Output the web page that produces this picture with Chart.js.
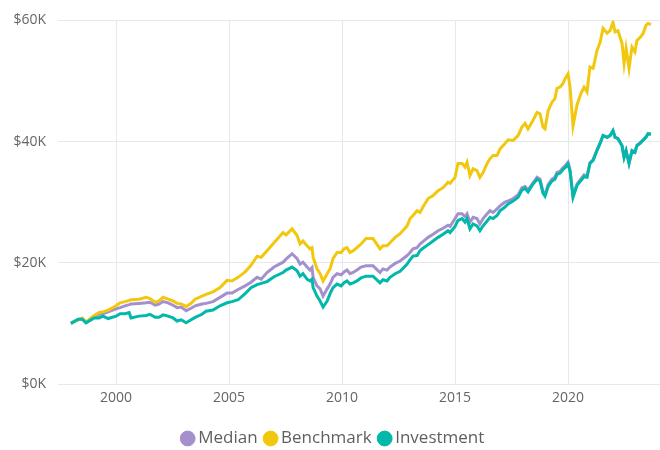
<!DOCTYPE html>
<html>
<head>
<meta charset="utf-8">
<script src="https://cdn.jsdelivr.net/npm/chart.js@4.4.1/dist/chart.umd.min.js"></script>
<style>
  body { margin: 0; background: #fff; }
  #wrap { width: 660px; height: 450px; position: relative; }
</style>
</head>
<body>
<div id="wrap"><canvas id="growthChart"></canvas></div>
<script>
// Growth of $10K, values in $K
const years = [1998.0, 1998.32, 1998.5, 1998.67, 1998.85, 1999.03, 1999.25, 1999.42, 1999.65, 2000.0,
  2000.18, 2000.4, 2000.58, 2000.66, 2001.02, 2001.33, 2001.5, 2001.73, 2001.9, 2002.08,
  2002.3, 2002.52, 2002.7, 2002.88, 2003.1, 2003.32, 2003.5, 2003.8, 2003.98, 2004.29,
  2004.6, 2004.91, 2005.13, 2005.4, 2005.71, 2005.97, 2006.24, 2006.42, 2006.68, 2006.99,
  2007.39, 2007.52, 2007.79, 2008.01, 2008.14, 2008.27, 2008.45, 2008.58, 2008.67, 2008.72,
  2008.89, 2009.03, 2009.16, 2009.34, 2009.47, 2009.6, 2009.78, 2009.96, 2010.09, 2010.22,
  2010.35, 2010.49, 2010.66, 2010.84, 2011.06, 2011.37, 2011.68, 2011.81, 2011.99, 2012.12,
  2012.35, 2012.57, 2012.88, 2013.01, 2013.14, 2013.32, 2013.45, 2013.58, 2013.81, 2014.03,
  2014.25, 2014.47, 2014.69, 2014.78, 2015.0, 2015.13, 2015.31, 2015.44, 2015.53, 2015.66,
  2015.8, 2015.97, 2016.1, 2016.24, 2016.42, 2016.55, 2016.68, 2016.86, 2016.99, 2017.21,
  2017.35, 2017.57, 2017.79, 2017.96, 2018.1, 2018.23, 2018.45, 2018.63, 2018.76, 2018.89,
  2018.98, 2019.12, 2019.29, 2019.42, 2019.51, 2019.65, 2019.78, 2019.87, 2020.0, 2020.09,
  2020.22, 2020.4, 2020.58, 2020.71, 2020.84, 2020.97, 2021.11, 2021.28, 2021.42, 2021.55,
  2021.73, 2021.86, 2021.99, 2022.08, 2022.21, 2022.39, 2022.48, 2022.57, 2022.7, 2022.83,
  2022.96, 2023.05, 2023.19, 2023.32, 2023.45, 2023.54, 2023.67];

const median = [10.0, 10.6, 10.8, 10.2, 10.6, 11.0, 11.5, 11.6, 11.9, 12.4,
  12.6, 12.9, 13.1, 13.2, 13.3, 13.4, 13.5, 13.0, 13.2, 13.6,
  13.4, 13.0, 12.6, 12.7, 12.1, 12.5, 12.9, 13.2, 13.3, 13.6,
  14.3, 15.0, 15.0, 15.6, 16.2, 16.8, 17.6, 17.3, 18.4, 19.3,
  20.1, 20.6, 21.5, 20.7, 19.8, 20.1, 19.3, 18.8, 19.2, 17.6,
  16.2, 15.7, 14.5, 15.7, 16.5, 17.6, 18.2, 18.0, 18.5, 18.8,
  18.2, 18.4, 18.8, 19.3, 19.5, 19.5, 18.4, 19.0, 18.8, 19.3,
  19.9, 20.3, 21.2, 21.7, 22.3, 22.5, 23.1, 23.5, 24.2, 24.7,
  25.3, 25.7, 26.2, 26.0, 27.3, 28.1, 28.1, 27.6, 28.1, 26.7,
  27.5, 27.3, 26.4, 27.3, 28.1, 28.6, 28.3, 28.9, 29.4, 30.0,
  30.2, 30.6, 31.2, 32.4, 32.6, 32.0, 33.2, 34.1, 33.8, 31.8,
  31.2, 32.9, 33.8, 34.1, 34.9, 35.1, 35.7, 36.0, 36.6, 35.3,
  31.0, 33.0, 33.9, 34.5, 34.3, 36.5, 37.0, 38.6, 39.8, 41.0,
  40.7, 41.0, 41.8, 40.8, 40.5, 39.3, 37.4, 38.5, 36.4, 38.5,
  38.3, 39.4, 39.8, 40.3, 40.8, 41.3, 41.2];

const benchmark = [10.0, 10.6, 10.9, 10.2, 10.8, 11.3, 11.8, 11.9, 12.2, 12.9,
  13.4, 13.6, 13.8, 13.9, 14.0, 14.3, 14.1, 13.5, 13.7, 14.3,
  14.0, 13.7, 13.3, 13.2, 12.8, 13.3, 14.0, 14.5, 14.8, 15.2,
  15.9, 17.1, 17.0, 17.6, 18.5, 19.6, 21.1, 20.9, 22.0, 23.3,
  25.0, 24.6, 25.6, 24.5, 23.1, 23.6, 22.8, 22.3, 22.5, 20.9,
  19.0, 18.2, 17.0, 18.2, 19.0, 20.7, 21.7, 21.7, 22.3, 22.5,
  21.7, 22.0, 22.5, 23.1, 24.0, 24.0, 22.3, 22.8, 22.8, 23.3,
  24.2, 24.8, 26.1, 27.3, 27.8, 28.6, 28.3, 29.2, 30.6, 31.1,
  31.9, 32.4, 33.3, 33.1, 34.1, 36.4, 36.4, 35.8, 36.6, 34.4,
  35.5, 35.2, 34.1, 34.9, 36.4, 37.2, 37.7, 37.7, 38.8, 39.7,
  40.3, 40.2, 41.0, 42.4, 43.0, 42.1, 43.5, 44.8, 44.6, 42.4,
  42.1, 45.1, 46.5, 47.1, 48.8, 49.0, 49.6, 50.4, 51.2, 49.0,
  42.6, 46.1, 48.0, 49.0, 48.2, 52.3, 52.1, 55.0, 56.4, 58.7,
  57.9, 58.3, 59.7, 58.1, 58.3, 56.2, 52.9, 55.4, 52.1, 55.6,
  54.8, 56.7, 57.2, 57.8, 59.2, 59.5, 59.3];

const investment = [10.0, 10.7, 10.7, 10.1, 10.5, 10.9, 10.9, 11.2, 10.8, 11.2,
  11.6, 11.6, 11.8, 10.9, 11.2, 11.3, 11.5, 11.0, 11.0, 11.4,
  11.2, 10.9, 10.4, 10.6, 10.1, 10.6, 11.0, 11.5, 12.0, 12.2,
  12.9, 13.4, 13.6, 13.9, 14.9, 15.9, 16.4, 16.6, 16.9, 17.7,
  18.4, 18.8, 19.3, 18.7, 17.8, 18.2, 17.3, 17.0, 17.3, 15.9,
  14.5, 13.7, 12.7, 13.7, 14.9, 15.9, 16.5, 16.2, 16.7, 17.0,
  16.5, 16.7, 17.0, 17.5, 17.8, 17.8, 16.7, 17.2, 17.0, 17.6,
  18.2, 18.6, 19.8, 20.5, 21.1, 21.2, 22.0, 22.4, 23.0, 23.6,
  24.2, 24.7, 25.3, 25.0, 26.0, 27.0, 27.3, 26.7, 27.3, 25.6,
  26.4, 26.1, 25.3, 26.1, 26.9, 27.5, 27.3, 27.8, 28.6, 29.2,
  29.7, 30.2, 30.8, 32.0, 32.3, 31.7, 33.0, 33.8, 33.5, 31.5,
  31.0, 32.6, 33.5, 33.8, 34.6, 34.8, 35.4, 35.7, 36.3, 35.1,
  30.8, 32.8, 33.6, 34.2, 34.1, 36.4, 36.9, 38.5, 39.7, 41.0,
  40.7, 41.0, 41.8, 40.7, 40.5, 39.3, 37.4, 38.5, 36.4, 38.5,
  38.2, 39.3, 39.7, 40.2, 40.7, 41.3, 41.2];

const xTicks = [2000, 2005, 2010, 2015, 2020];
const yTicks = [0, 20, 40, 60];

function toPoints(values) {
    return values.map((v, i) => ({ x: years[i], y: v }));
}

const ctx = document.getElementById('growthChart').getContext('2d');

new Chart(ctx, {
    type: 'line',
    data: {
        datasets: [{
            label: 'Median',
            data: toPoints(median),
            borderColor: '#A590CE',
            backgroundColor: '#A590CE',
            order: 2
        }, {
            label: 'Benchmark',
            data: toPoints(benchmark),
            borderColor: '#F2C80F',
            backgroundColor: '#F2C80F',
            order: 1
        }, {
            label: 'Investment',
            data: toPoints(investment),
            borderColor: '#01B8AA',
            backgroundColor: '#01B8AA',
            order: 0
        }]
    },
    options: {
        responsive: true,
        maintainAspectRatio: false,
        animation: false,
        // left padding nudges the centred legend right; y axis width makes up for it
        layout: { padding: { top: 12, right: 0, left: 10, bottom: -7 } },
        elements: {
            point: { radius: 0 },
            line: { borderWidth: 3, tension: 0 }
        },
        plugins: {
            tooltip: { enabled: false },
            legend: {
                position: 'bottom',
                labels: {
                    usePointStyle: true,
                    pointStyle: 'circle',
                    boxWidth: 4,
                    boxHeight: 10.5,
                    padding: 11,
                    color: '#5F5F5F',
                    font: { family: 'Open Sans', size: 17 },
                    sort: (a, b) => a.datasetIndex - b.datasetIndex
                }
            }
        },
        scales: {
            x: {
                type: 'linear',
                min: 1997.43,
                max: 2024.07,
                afterBuildTicks: scale => { scale.ticks = xTicks.map(v => ({ value: v })); },
                afterFit: scale => { scale.height = 35; },
                grid: { color: '#E8E8E8', drawTicks: false },
                border: { display: false },
                ticks: {
                    padding: 6,
                    color: '#666666',
                    font: { family: 'Open Sans', size: 14 },
                    callback: v => String(v)
                }
            },
            y: {
                min: 0,
                max: 60,
                afterBuildTicks: scale => { scale.ticks = yTicks.map(v => ({ value: v })); },
                afterFit: scale => { scale.width = 48; },
                grid: { color: '#E8E8E8', drawTicks: false },
                border: { display: false },
                ticks: {
                    padding: 12,
                    color: '#666666',
                    font: { family: 'Open Sans', size: 14 },
                    callback: v => '$' + v + 'K'
                }
            }
        }
    }
});
</script>
</body>
</html>
